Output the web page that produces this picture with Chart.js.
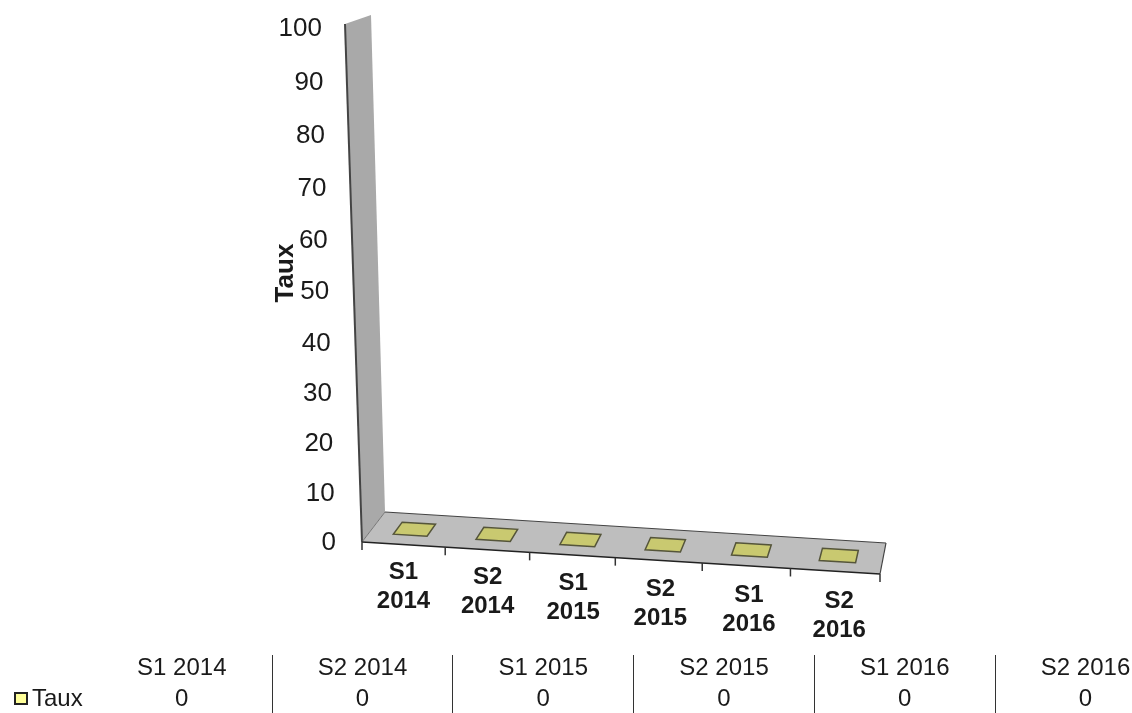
<!DOCTYPE html>
<html>
<head>
<meta charset="utf-8">
<title>Taux</title>
<script src="https://cdn.jsdelivr.net/npm/chart.js@4"></script>
<style>
    html, body { margin: 0; padding: 0; background: #fff; overflow: hidden; }
    canvas { display: block; }
</style>
</head>
<body>
<canvas id="tauxChart" width="1132" height="713"></canvas>
<script>
const categories = ['S1 2014', 'S2 2014', 'S1 2015', 'S2 2015', 'S1 2016', 'S2 2016'];
const seriesName = 'Taux';
const taux = [0, 0, 0, 0, 0, 0];
const yTicks = [0, 10, 20, 30, 40, 50, 60, 70, 80, 90, 100];

const FONT = '"Liberation Sans", Arial, sans-serif';

// perspective easing for the box: far values get squeezed a little
const ease = (t, a) => t / (a - (a - 1) * t);

// u: along the category axis, w: depth into the box, t: height (all 0..1)
function project(u, w, t) {
    const e = ease(u, 1.045);
    const p = ease(t, 1.05);
    const frontX = 362 + 518 * e, frontY = 542 + 32 * e;
    const backX = 385 + 501 * e, backY = 512 + 31 * e;
    return [
        frontX + (backX - frontX) * w - (17 - 3 * w) * p,
        frontY + (backY - frontY) * w - (518 - 21 * w) * p
    ];
}

function quad(ctx, pts, fill, stroke, lineWidth) {
    ctx.beginPath();
    pts.forEach((p, i) => i ? ctx.lineTo(p[0], p[1]) : ctx.moveTo(p[0], p[1]));
    ctx.closePath();
    if (fill) { ctx.fillStyle = fill; ctx.fill(); }
    if (stroke) { ctx.strokeStyle = stroke; ctx.lineWidth = lineWidth || 1; ctx.stroke(); }
}

function line(ctx, a, b, color, width) {
    ctx.beginPath();
    ctx.moveTo(a[0], a[1]);
    ctx.lineTo(b[0], b[1]);
    ctx.strokeStyle = color;
    ctx.lineWidth = width;
    ctx.stroke();
}

const box3d = {
    id: 'box3d',
    // wall and floor go under the bars
    beforeDatasetsDraw(chart) {
        const ctx = chart.ctx;
        ctx.save();
        quad(ctx, [project(0, 0, 1), project(0, 1, 1), project(0, 1, 0), project(0, 0, 0)], '#a9a9a9');
        quad(ctx, [project(0, 0, 0), project(0, 1, 0), project(1, 1, 0), project(1, 0, 0)], '#bebebe');
        line(ctx, project(0, 0, 1), project(0, 0, 0), '#444', 2);
        line(ctx, project(0, 0, 0), project(0, 1, 0), '#777', 1);
        line(ctx, project(0, 1, 0), project(1, 1, 0), '#444', 1.2);
        line(ctx, project(1, 1, 0), project(1, 0, 0), '#444', 1.2);
        line(ctx, project(0, 0, 0), project(1, 0, 0), '#222', 1.5);
        // category ticks hang off the front edge of the floor
        for (let i = 0; i <= categories.length; i++) {
            const a = project(i / categories.length, 0, 0);
            line(ctx, a, [a[0], a[1] + 8], '#333', 1.5);
        }
        ctx.restore();
    },
    // zero height bars: only the slab at the value level is visible
    afterDatasetsDraw(chart) {
        const ctx = chart.ctx;
        const xs = chart.scales.x, ys = chart.scales.y;
        const bars = chart.getDatasetMeta(0).data;
        ctx.save();
        bars.forEach((bar, i) => {
            const left = (bar.x - bar.width / 2 - xs.left) / xs.width;
            const right = (bar.x + bar.width / 2 - xs.left) / xs.width;
            const t = (ys.bottom - ys.getPixelForValue(taux[i])) / ys.height;
            quad(ctx, [
                project(left, 0.31, t), project(left, 0.71, t),
                project(right, 0.71, t), project(right, 0.31, t)
            ], '#c9c970', '#55553a', 1.5);
        });
        ctx.restore();
    },
    afterDraw(chart) {
        const ctx = chart.ctx;
        const xs = chart.scales.x, ys = chart.scales.y;
        ctx.save();
        ctx.fillStyle = '#1a1a1a';

        // value axis labels follow the slanted front edge of the wall
        ctx.font = '26px ' + FONT;
        ctx.textAlign = 'right';
        ctx.textBaseline = 'middle';
        yTicks.forEach(v => {
            const t = (ys.bottom - ys.getPixelForValue(v)) / ys.height;
            const p = project(0, 0, t);
            ctx.fillText(String(v), p[0] - 26 + 3 * t, p[1] + 1 + 4 * t);
        });

        // axis title
        ctx.save();
        ctx.translate(286, 273);
        ctx.rotate(-Math.PI / 2);
        ctx.font = 'bold 26px ' + FONT;
        ctx.textAlign = 'center';
        ctx.fillText(seriesName, 0, 0);
        ctx.restore();

        // category labels, two lines under the floor
        ctx.font = 'bold 24px ' + FONT;
        ctx.textAlign = 'center';
        categories.forEach((c, i) => {
            const u = (xs.getPixelForValue(i) - xs.left) / xs.width;
            const p = project(u, 0, 0);
            const parts = c.split(' ');
            const dy = 27.2 + 3.6 * u;
            ctx.fillText(parts[0], p[0] + 5 * u * u, p[1] + dy);
            ctx.fillText(parts[1], p[0] + 5 * u * u, p[1] + dy + 29);
        });

        // data table along the bottom
        const colLeft = 91.4, colWidth = 180.75;
        ctx.font = '24px ' + FONT;
        categories.forEach((c, i) => {
            const cx = colLeft + colWidth * (i + 0.5);
            ctx.fillText(c, cx, 668);
            ctx.fillText(String(taux[i]), cx, 699);
            if (i < categories.length - 1) {
                const sx = Math.floor(colLeft + colWidth * (i + 1)) + 0.5;
                line(ctx, [sx, 655], [sx, 713], '#333', 1);
            }
        });
        ctx.textAlign = 'left';
        ctx.fillText(seriesName, 32, 699);
        ctx.fillStyle = '#ffff99';
        ctx.strokeStyle = '#222';
        ctx.lineWidth = 2;
        ctx.fillRect(15, 693, 12, 11);
        ctx.strokeRect(15, 693, 12, 11);
        ctx.restore();
    }
};

new Chart(document.getElementById('tauxChart'), {
    type: 'bar',
    data: {
        labels: categories,
        datasets: [{
            label: seriesName,
            data: taux,
            backgroundColor: '#c9c970',
            borderWidth: 0,
            categoryPercentage: 0.41,
            barPercentage: 1
        }]
    },
    options: {
        responsive: false,
        animation: false,
        // plot area lines up with the front edge of the floor and wall
        layout: { padding: { left: 362, right: 252, top: 24, bottom: 171 } },
        plugins: { legend: { display: false }, tooltip: { enabled: false } },
        scales: {
            x: { display: false },
            y: { display: false, min: 0, max: 100 }
        }
    },
    plugins: [box3d]
});
</script>
</body>
</html>
